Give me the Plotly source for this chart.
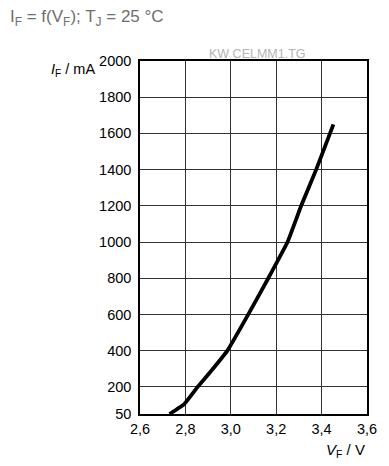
import plotly.graph_objects as go

# Data
vf = [2.73, 2.795, 2.854, 2.915, 2.985, 3.077, 3.165, 3.25, 3.31, 3.376, 3.437, 3.452]
if_ma = [50, 105, 200, 290, 400, 600, 800, 1000, 1200, 1400, 1600, 1650]

x_ticks = [2.6, 2.8, 3.0, 3.2, 3.4, 3.6]
y_ticks = [50, 200, 400, 600, 800, 1000, 1200, 1400, 1600, 1800, 2000]

W, H = 389, 466
L, R, T, B = 140.4, 20.3, 61, 52
pw = W - L - R
ph = H - T - B

def px(x):
    return (x - L) / pw

def py(y):
    return (H - B - y) / ph

fig = go.Figure()
fig.add_trace(go.Scatter(x=vf, y=if_ma, mode="lines",
                         line=dict(color="black", width=3.8, shape="spline", smoothing=0.3),
                         showlegend=False, hoverinfo="skip"))

font = "Liberation Sans, Arial, sans-serif"
fig.update_layout(
    width=W, height=H,
    margin=dict(l=L, r=R, t=T, b=B),
    paper_bgcolor="white", plot_bgcolor="white",
    separators=",.",
    font=dict(family=font, size=14.5, color="black"),
    xaxis=dict(range=[2.6, 3.6], tickvals=x_ticks, tickformat=".1f",
               showgrid=True, gridcolor="#333", gridwidth=1,
               showline=True, linecolor="black", linewidth=1.5, mirror=True,
               ticks="", ticklabelstandoff=1, zeroline=False, fixedrange=True),
    yaxis=dict(range=[50, 2000], tickvals=y_ticks,
               showgrid=True, gridcolor="#333", gridwidth=1,
               showline=True, linecolor="black", linewidth=1.5, mirror=True,
               ticks="", ticklabelstandoff=4, zeroline=False, fixedrange=True),
    annotations=[
        dict(text="I<sub>F</sub> = f(V<sub>F</sub>); T<sub>J</sub> = 25 °C",
             xref="paper", yref="paper", x=px(8), y=py(18), xanchor="left", yanchor="middle",
             showarrow=False, font=dict(size=17, color="#6e6e6e", family=font)),
        dict(text="KW CELMM1.TG", xref="paper", yref="paper", x=px(259), y=py(54),
             xanchor="center", yanchor="middle", showarrow=False,
             font=dict(size=12.5, color="#b4b4b4", family=font)),
        dict(text="<i>I</i><sub>F</sub> / mA", xref="paper", yref="paper", x=px(97), y=py(70),
             xanchor="right", yanchor="middle", showarrow=False,
             font=dict(size=14.5, color="black", family=font)),
        dict(text="<i>V</i><sub>F</sub> / V", xref="paper", yref="paper", x=px(369), y=py(450),
             xanchor="right", yanchor="middle", showarrow=False,
             font=dict(size=15, color="black", family=font)),
    ],
)

fig.write_html("out.html", config={"displayModeBar": False},
               post_script="document.body.style.margin='0';document.body.style.overflow='hidden';")
